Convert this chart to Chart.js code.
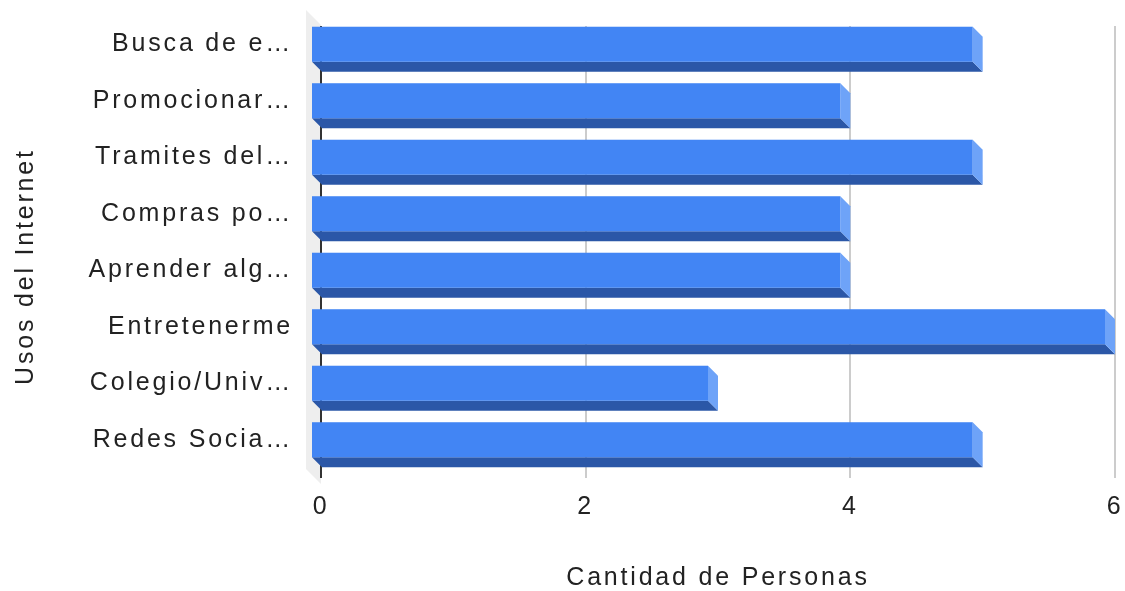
<!DOCTYPE html>
<html>
<head>
<meta charset="utf-8">
<script src="https://cdn.jsdelivr.net/npm/chart.js@4/dist/chart.umd.min.js"></script>
<style>
body{margin:0;background:#fff;}
#wrap{width:1125px;height:591px;}
</style>
</head>
<body>
<div id="wrap"><canvas id="c" width="1125" height="591"></canvas></div>
<script>
const usos=['Busca de e\u2026','Promocionar\u2026','Tramites del\u2026','Compras po\u2026','Aprender alg\u2026','Entretenerme','Colegio/Univ\u2026','Redes Socia\u2026'];
const personas=[5,4,5,4,4,6,3,5];
const xTicks=[0,2,4,6];

const D=10; // depth of the 3d boxes
const LS='2.8px';

// spacing of the letters like the google render, plus the grey wall
const spacing={
id:'spacing',
beforeUpdate(c){c.ctx.letterSpacing=LS;},
beforeDraw(c){
c.ctx.letterSpacing=LS;
const a=c.chartArea,ctx=c.ctx;
ctx.save();
ctx.fillStyle='#eeeeee';
ctx.beginPath();
ctx.moveTo(a.left-15,a.top-16);
ctx.lineTo(a.left,a.top-1);
ctx.lineTo(a.left,a.bottom+6);
ctx.lineTo(a.left-15,a.bottom-9);
ctx.closePath();
ctx.fill();
ctx.restore();
}
};

const boxes={
id:'boxes',
afterDatasetsDraw(c){
const ctx=c.ctx;
c.getDatasetMeta(0).data.forEach(b=>{
const p=b.getProps(['x','y','base','height'],true);
const t=p.y-p.height/2,bt=p.y+p.height/2;
ctx.save();
// bottom
ctx.fillStyle='#2b57a7';
ctx.beginPath();
ctx.moveTo(p.base-D,bt-D);ctx.lineTo(p.x-D,bt-D);ctx.lineTo(p.x,bt);ctx.lineTo(p.base,bt);
ctx.closePath();ctx.fill();
// side
ctx.fillStyle='#6ea3f8';
ctx.beginPath();
ctx.moveTo(p.x-D,t-D);ctx.lineTo(p.x,t);ctx.lineTo(p.x,bt);ctx.lineTo(p.x-D,bt-D);
ctx.closePath();ctx.fill();
// front
ctx.fillStyle='#4285f4';
ctx.fillRect(p.base-D,t-D,p.x-p.base,p.height);
ctx.restore();
});
}
};

function noPad(s){s.paddingTop=0;s.paddingBottom=0;s.paddingLeft=0;s.paddingRight=0;}

new Chart(document.getElementById('c'),{
type:'bar',
data:{
labels:usos,
datasets:[{data:personas,backgroundColor:'rgba(0,0,0,0)',categoryPercentage:1,barPercentage:0.62}]
},
options:{
indexAxis:'y',
responsive:false,
animation:false,
events:[],
layout:{padding:{top:26,right:10,left:0,bottom:0}},
plugins:{legend:{display:false},tooltip:{enabled:false}},
scales:{
x:{
min:0,max:6,
afterBuildTicks(s){s.ticks=xTicks.map(v=>({value:v}));},
afterFit(s){s.height=113;noPad(s);},
border:{display:false},
grid:{drawTicks:false,lineWidth:2,color:ctx=>ctx.tick&&ctx.tick.value===0?'#333333':'#cccccc'},
ticks:{padding:14,color:'#222',font:{family:'Liberation Sans',size:25}},
title:{display:true,text:'Cantidad de Personas',color:'#222',padding:{top:0,bottom:-2},font:{family:'Liberation Sans',size:25}}
},
y:{
afterFit(s){s.width=321;noPad(s);},
border:{display:false},
grid:{display:false},
ticks:{padding:20,labelOffset:-10,color:'#222',autoSkip:false,font:{family:'Liberation Sans',size:25}},
title:{display:true,text:'Usos del Internet\u00a0\u00a0\u00a0',color:'#222',padding:{top:11,bottom:0},font:{family:'Liberation Sans',size:25}}
}
}
},
plugins:[spacing,boxes]
});
</script>
</body>
</html>
